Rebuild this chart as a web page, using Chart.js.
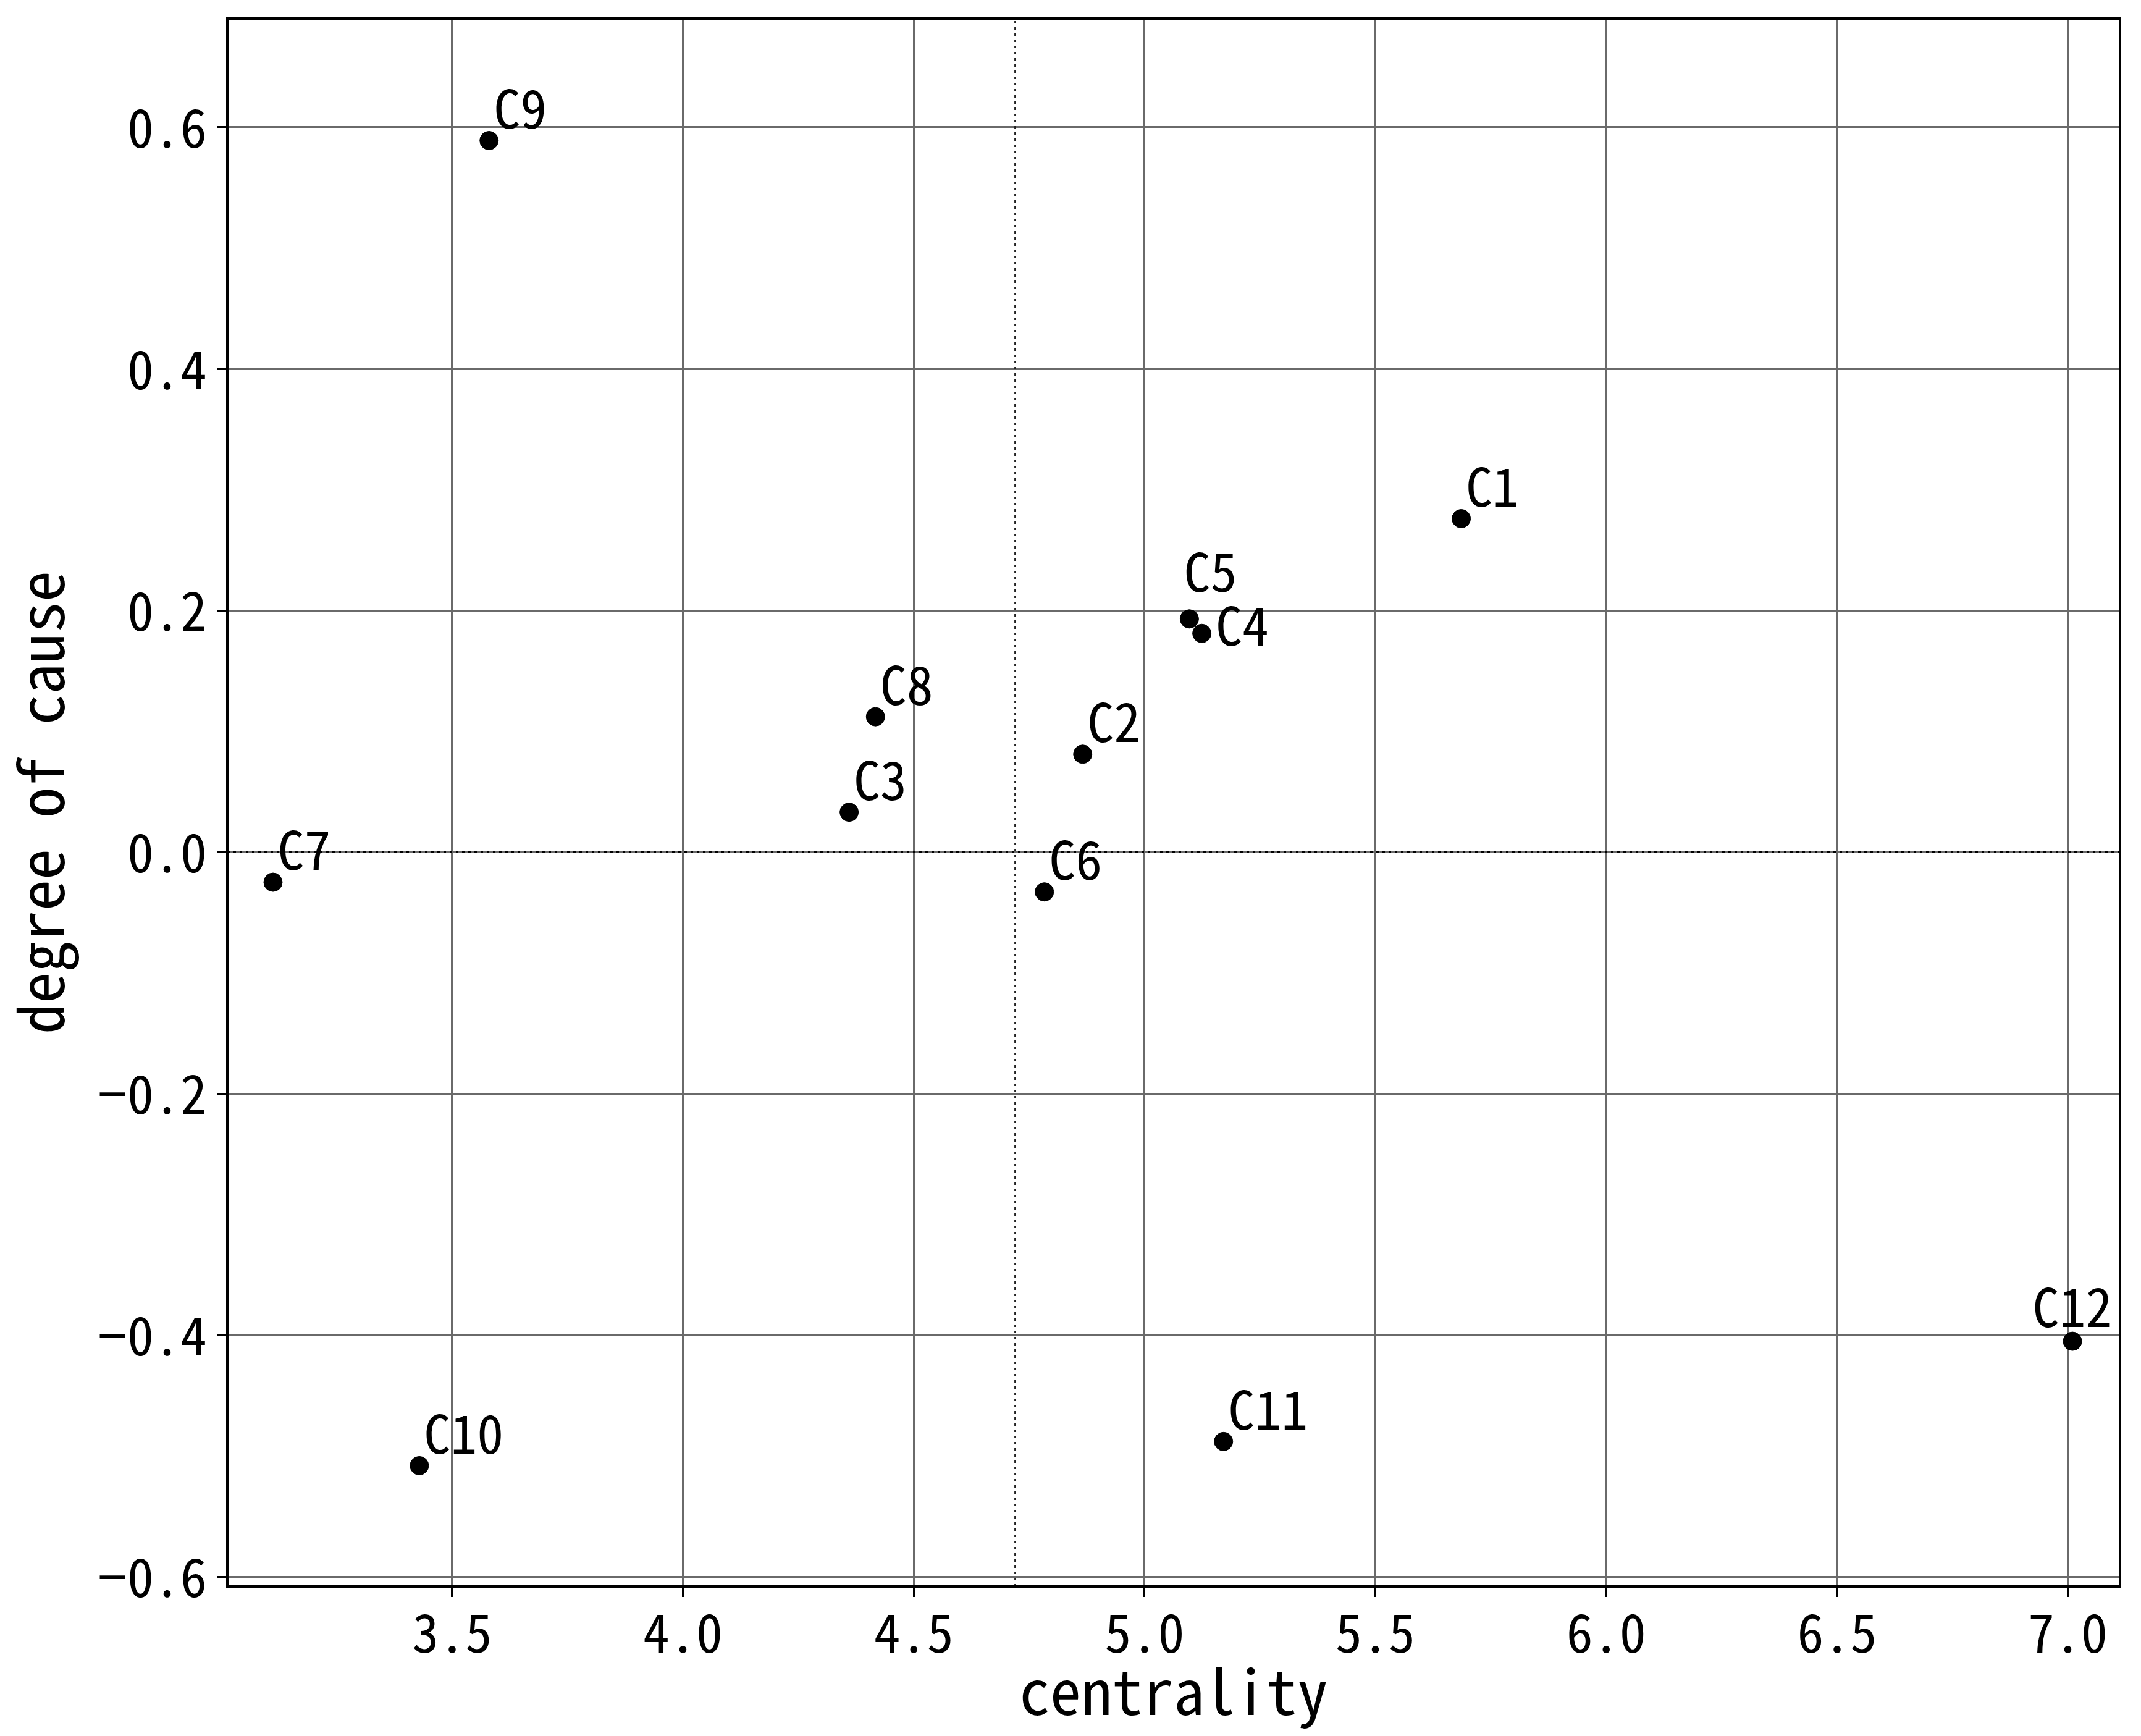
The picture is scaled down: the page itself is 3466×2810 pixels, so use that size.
<!DOCTYPE html>
<html><head><meta charset="utf-8">
<script src="https://cdn.jsdelivr.net/npm/chart.js@4/dist/chart.umd.min.js"></script>
<style>html,body{margin:0;padding:0;background:#fff}canvas{display:block}</style>
</head><body>
<canvas id="c" width="3466" height="2810"></canvas>
<script>
const names = ['C1','C2','C3','C4','C5','C6','C7','C8','C9','C10','C11','C12'];
const centrality = [5.686, 4.866, 4.360, 5.124, 5.097, 4.783, 3.112, 4.417, 3.580, 3.429, 5.171, 7.010];
const cause = [0.276, 0.081, 0.033, 0.181, 0.193, -0.033, -0.025, 0.112, 0.589, -0.508, -0.488, -0.405];
const labelAlign = ['left','left','left','left','left','left','left','left','left','left','left','center'];
const labelDx = [0.01, 0.01, 0.01, 0.03, -0.012, 0.01, 0.01, 0.01, 0.01, 0.01, 0.01, 0];
const labelDy = [0.01, 0.01, 0.01, -0.01, 0.0225, 0.01, 0.01, 0.01, 0.01, 0.01, 0.01, 0.012];
const xTicks = [3.5, 4.0, 4.5, 5.0, 5.5, 6.0, 6.5, 7.0];
const yTicks = [-0.6, -0.4, -0.2, 0.0, 0.2, 0.4, 0.6];
const xRange = [3.013, 7.113];
const yRange = [-0.608, 0.690];
const xTitle = 'centrality';
const yTitle = 'degree of cause';

const meanCentrality = centrality.reduce((a, b) => a + b, 0) / centrality.length;
const fmt = v => (v < 0 ? '\u2212' : '') + Math.abs(v).toFixed(1);
const FONT = "'Noto Sans Mono CJK SC', 'DejaVu Sans Mono', monospace";
Chart.defaults.font.family = FONT;
Chart.defaults.color = '#000';

const points = names.map((n, i) => ({x: centrality[i], y: cause[i]}));

const framePlugin = {
  id: 'frame',
  afterDatasetsDraw(chart) {
    const {ctx, chartArea: a, scales} = chart;
    ctx.save();
    ctx.fillStyle = '#000';
    ctx.font = "86px " + FONT;
    ctx.textBaseline = 'alphabetic';
    names.forEach((n, i) => {
      ctx.textAlign = labelAlign[i];
      ctx.fillText(n, scales.x.getPixelForValue(centrality[i] + labelDx[i]),
                      scales.y.getPixelForValue(cause[i] + labelDy[i]));
    });
    ctx.strokeStyle = '#000';
    ctx.lineWidth = 4;
    ctx.strokeRect(a.left, a.top, a.right - a.left, a.bottom - a.top);
    ctx.restore();
  }
};

new Chart(document.getElementById('c'), {
  type: 'scatter',
  data: {
    datasets: [
      {
        label: 'factors',
        data: points,
        backgroundColor: '#000',
        borderColor: '#000',
        pointRadius: 15,
        pointHoverRadius: 15,
        order: 0
      },
      {
        label: 'zero',
        data: [{x: xRange[0], y: 0}, {x: xRange[1], y: 0}],
        showLine: true,
        pointRadius: 0,
        borderColor: '#000',
        borderWidth: 3,
        borderDash: [4, 6],
        order: 1
      },
      {
        label: 'mean',
        data: [{x: meanCentrality, y: yRange[0]}, {x: meanCentrality, y: yRange[1]}],
        showLine: true,
        pointRadius: 0,
        borderColor: '#222',
        borderWidth: 2.5,
        borderDash: [4, 6],
        order: 2
      }
    ]
  },
  options: {
    responsive: false,
    devicePixelRatio: 1,
    animation: false,
    layout: {padding: {left: 0, right: 34, top: 30, bottom: 0}},
    plugins: {legend: {display: false}, tooltip: {enabled: false}},
    scales: {
      x: {
        type: 'linear',
        min: xRange[0], max: xRange[1],
        afterBuildTicks: s => { s.ticks = xTicks.map(v => ({value: v})); },
        afterFit: s => { s.height = 242; s.paddingLeft = 0; s.paddingRight = 0; },
        ticks: {
          font: {size: 86},
          padding: 6,
          maxRotation: 0,
          autoSkip: false,
          callback: v => fmt(v)
        },
        grid: {color: '#6a6a6a', lineWidth: 3, tickLength: 17, tickColor: '#000', tickWidth: 3},
        border: {display: true, color: '#000', width: 4},
        title: {display: true, text: xTitle, font: {size: 100}, padding: {top: 0, bottom: 12}}
      },
      y: {
        type: 'linear',
        min: yRange[0], max: yRange[1],
        afterBuildTicks: s => { s.ticks = yTicks.map(v => ({value: v})); },
        afterFit: s => { s.width = 368; s.paddingTop = 0; s.paddingBottom = 0; },
        ticks: {
          font: {size: 86},
          padding: 16,
          autoSkip: false,
          callback: v => fmt(v)
        },
        grid: {color: '#6a6a6a', lineWidth: 3, tickLength: 17, tickColor: '#000', tickWidth: 3},
        border: {display: true, color: '#000', width: 4},
        title: {display: true, text: yTitle, font: {size: 100}, padding: {top: 6, bottom: 0}}
      }
    }
  },
  plugins: [framePlugin]
});
</script>
</body></html>
